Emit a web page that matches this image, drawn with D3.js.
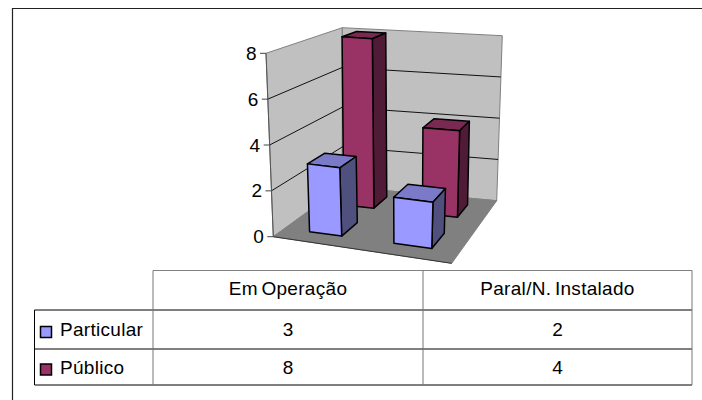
<!DOCTYPE html>
<html>
<head>
<meta charset="utf-8">
<script src="https://cdn.jsdelivr.net/npm/d3@7"></script>
<style>
  html, body { margin: 0; padding: 0; background: #fff; }
  svg { display: block; }
  text { font-family: "Liberation Sans", Arial, sans-serif; fill: #000; }
</style>
</head>
<body>
<div id="chart"></div>
<script>
var categories = ["Em Operação", "Paral/N. Instalado"];
var seriesNames = ["Particular", "Público"];
var particular = [3, 2];
var publico = [8, 4];
var valueTicks = [0, 2, 4, 6, 8];

var colors = {
    "Particular": {front: "#9999ff", top: "#7a7ac8", side: "#50507e"},
    "Público": {front: "#993366", top: "#7a2952", side: "#501b36"}
};

var width = 702, height = 400;
var svg = d3.select("#chart").append("svg").attr("width", width).attr("height", height);

// corners of the 3d box as they land on the picture
var floorQuad = [[273.3, 236.7], [451.7, 263.3], [496.7, 200.7], [342.3, 186.7]];
var topQuad = [[266, 53.3], [461.7, 73], [502.3, 35.7], [342.3, 27.7]];

/**
 * unit square to quad, perspective mapping
 * @param q corners: front-left, front-right, back-right, back-left
 */
var makeProjection = function(q){
    var x0 = q[0][0], y0 = q[0][1], x1 = q[1][0], y1 = q[1][1];
    var x2 = q[2][0], y2 = q[2][1], x3 = q[3][0], y3 = q[3][1];
    var sx = x0 - x1 + x2 - x3, sy = y0 - y1 + y2 - y3;
    var dx1 = x1 - x2, dx2 = x3 - x2, dy1 = y1 - y2, dy2 = y3 - y2;
    var den = dx1 * dy2 - dx2 * dy1;
    var g = (sx * dy2 - dx2 * sy) / den, h = (dx1 * sy - sx * dy1) / den;
    var a = x1 - x0 + g * x1, b = x3 - x0 + h * x3;
    var d = y1 - y0 + g * y1, e = y3 - y0 + h * y3;
    return function(u, v){
        var w = g * u + h * v + 1;
        return [(a * u + b * v + x0) / w, (d * u + e * v + y0) / w];
    };
};
var floorAt = makeProjection(floorQuad), topAt = makeProjection(topQuad);

var valueScale = d3.scaleLinear().domain([0, 8]).range([0, 1]);
var catScale = d3.scaleBand().domain(categories).range([0.012, 1.012]).paddingInner(0.6).paddingOuter(0.3);
var depthScale = d3.scaleBand().domain(seriesNames).range([0.01, 1.01]).paddingInner(0.54).paddingOuter(0.27);

var project = function(u, d, value){
    var a = floorAt(u, d), b = topAt(u, d), t = valueScale(value);
    return [a[0] + (b[0] - a[0]) * t, a[1] + (b[1] - a[1]) * t];
};
var line = d3.line();
var drawQuad = function(pts, fill, stroke, sw){
    svg.append("path").attr("d", line(pts) + "Z").attr("fill", fill)
        .attr("stroke", stroke).attr("stroke-width", sw).attr("stroke-linejoin", "round");
};

// walls and floor
drawQuad([project(0, 0, 0), project(0, 1, 0), project(0, 1, 8), project(0, 0, 8)], "#c0c0c0", "#808080", 1);
drawQuad([project(0, 1, 0), project(1, 1, 0), project(1, 1, 8), project(0, 1, 8)], "#c0c0c0", "#808080", 1);
drawQuad([project(0, 0, 0), project(1, 0, 0), project(1, 1, 0), project(0, 1, 0)], "#808080", "#808080", 1);
svg.append("path").attr("d", line([project(1, 0, 0), project(0, 0, 0)])).attr("stroke", "#333").attr("fill", "none");

// gridlines
valueTicks.slice(1, -1).forEach(function(t){
    svg.append("path").attr("d", line([project(0, 0, t), project(0, 1, t), project(1, 1, t)]))
        .attr("fill", "none").attr("stroke", "#111").attr("stroke-width", 1);
});

// value axis
svg.append("path").attr("d", line([project(0, 0, 0), project(0, 0, 8)])).attr("stroke", "#555").attr("stroke-width", 1);
valueTicks.forEach(function(t){
    var p = project(0, 0, t);
    svg.append("line").attr("x1", p[0] - 6).attr("x2", p[0]).attr("y1", p[1]).attr("y2", p[1]).attr("stroke", "#444");
    svg.append("text").attr("x", p[0] - 9.5).attr("y", p[1] + 6.5).attr("text-anchor", "end")
        .attr("font-size", 19).text(t);
});

// bars, back row first
var rows = [
    {name: "Público", values: publico},
    {name: "Particular", values: particular}
];
rows.forEach(function(row){
    var c = colors[row.name];
    var d0 = depthScale(row.name), d1 = d0 + depthScale.bandwidth();
    categories.forEach(function(cat, i){
        var u0 = catScale(cat), u1 = u0 + catScale.bandwidth(), v = row.values[i];
        drawQuad([project(u0, d0, v), project(u1, d0, v), project(u1, d1, v), project(u0, d1, v)], c.top, "#000", 1.5);
        drawQuad([project(u1, d0, 0), project(u1, d1, 0), project(u1, d1, v), project(u1, d0, v)], c.side, "#000", 1.5);
        drawQuad([project(u0, d0, 0), project(u1, d0, 0), project(u1, d0, v), project(u0, d0, v)], c.front, "#000", 1.5);
    });
});

// frame, only the sides the picture shows
svg.append("path").attr("d", "M12.5,400V8.5H702").attr("fill", "none").attr("stroke", "#222").attr("stroke-width", 1.2);

// data table
var colX = [34.5, 153, 423, 692];
var rowY = [270.5, 310, 349, 385];
var hLine = function(x1, x2, y, col){
    svg.append("line").attr("x1", x1).attr("x2", x2).attr("y1", y).attr("y2", y).attr("stroke", col);
};
var vLine = function(x, y1, y2, col){
    svg.append("line").attr("x1", x).attr("x2", x).attr("y1", y1).attr("y2", y2).attr("stroke", col);
};
hLine(colX[1], colX[3], rowY[0], "#808080");
hLine(colX[0], colX[3], rowY[1], "#000");
hLine(colX[0], colX[3], rowY[2], "#000");
hLine(colX[0], colX[3], rowY[3], "#000");
vLine(colX[0], rowY[1], rowY[3], "#000");
colX.slice(1).forEach(function(x){ vLine(x, rowY[0], rowY[3], "#777"); });

categories.forEach(function(cat, i){
    svg.append("text").attr("x", (colX[i + 1] + colX[i + 2]) / 2).attr("y", 295)
        .attr("text-anchor", "middle").attr("font-size", 19).attr("word-spacing", -2).attr("letter-spacing", 0.3).text(cat);
});
rows.slice().reverse().forEach(function(row, r){
    var midY = (rowY[r + 1] + rowY[r + 2]) / 2;
    svg.append("rect").attr("x", 40.5).attr("y", midY - 3).attr("width", 11).attr("height", 11)
        .attr("fill", colors[row.name].front).attr("stroke", "#000").attr("stroke-width", 1.5);
    svg.append("text").attr("x", 60).attr("y", midY + 6.5).attr("font-size", 19).attr("letter-spacing", 0.3).text(row.name);
    row.values.forEach(function(v, i){
        svg.append("text").attr("x", (colX[i + 1] + colX[i + 2]) / 2).attr("y", midY + 6.5)
            .attr("text-anchor", "middle").attr("font-size", 19).text(v);
    });
});
</script>
</body>
</html>
